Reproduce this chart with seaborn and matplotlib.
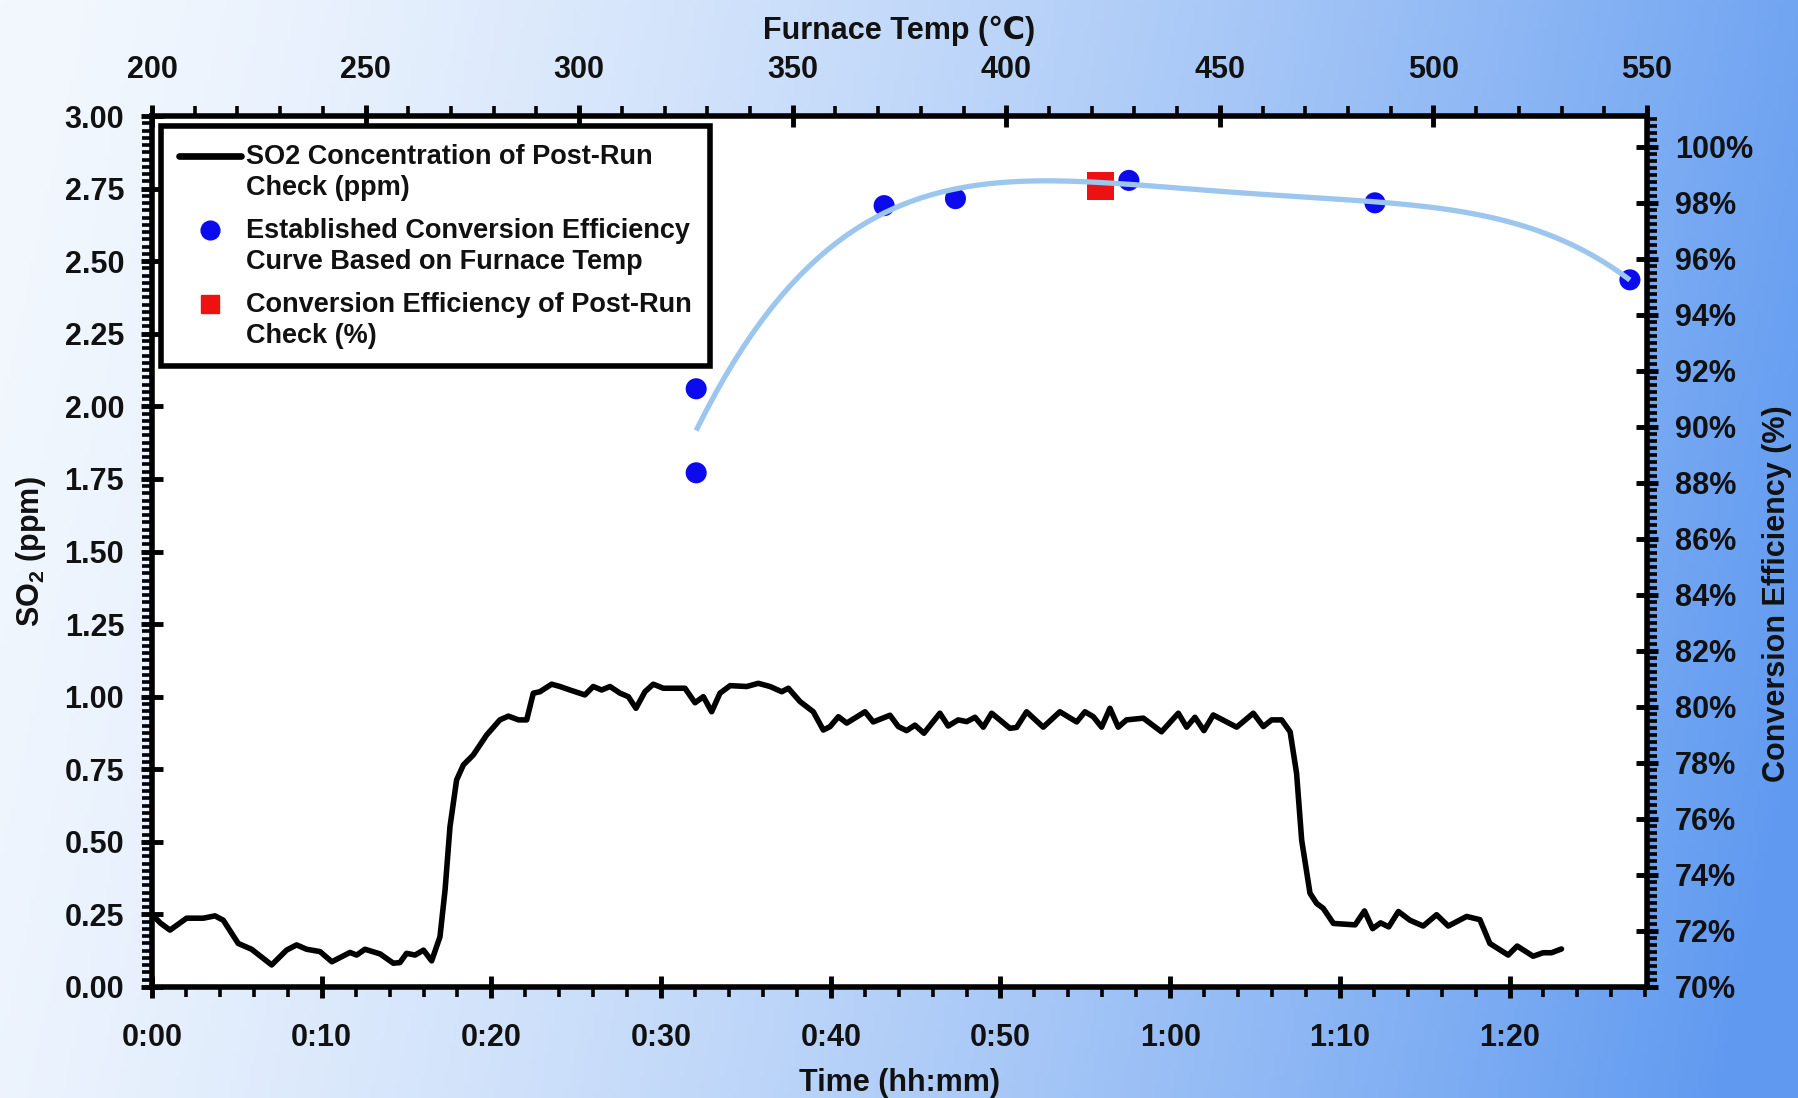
import numpy as np
import pandas as pd
import matplotlib
matplotlib.use("Agg")
import matplotlib.pyplot as plt
import seaborn as sns
from matplotlib.lines import Line2D
from matplotlib.ticker import MultipleLocator, FixedLocator, FuncFormatter

# ---------------- data ----------------
time_min = [0.0, 0.5, 1.06, 2.04, 3.03, 3.71, 4.2, 5.08, 5.87, 7.05, 7.93, 8.52, 9.11, 9.9,
            10.6, 11.67, 12.06, 12.55, 13.44, 14.22, 14.61, 15.0, 15.5, 16.0, 16.48, 16.97,
            17.27, 17.56, 17.95, 18.35, 18.93, 19.72, 20.5, 21.0, 21.6, 22.08, 22.47, 22.86,
            23.55, 24.04, 24.63, 25.51, 26.0, 26.5, 26.99, 27.58, 28.07, 28.52, 29.05, 29.54,
            30.13, 31.41, 32.0, 32.49, 32.98, 33.47, 34.07, 35.05, 35.73, 36.42, 37.11, 37.5,
            38.19, 38.97, 39.56, 39.96, 40.45, 40.94, 42.02, 42.5, 43.49, 43.98, 44.47, 44.96,
            45.49, 46.43, 46.92, 47.51, 48.01, 48.5, 48.99, 49.48, 50.56, 50.95, 51.54, 52.52,
            53.5, 54.49, 54.98, 55.47, 55.96, 56.45, 56.94, 57.43, 58.42, 59.49, 60.48, 60.97,
            61.46, 61.99, 62.54, 63.92, 64.9, 65.49, 65.98, 66.57, 67.07, 67.45, 67.75, 68.24,
            68.63, 69.02, 69.62, 70.9, 71.45, 71.93, 72.4, 72.88, 73.45, 74.13, 74.91, 75.7,
            76.39, 77.47, 78.25, 78.84, 79.92, 80.45, 81.39, 81.98, 82.47, 83.06]
so2_ppm = [0.25, 0.22, 0.196, 0.237, 0.237, 0.245, 0.23, 0.150, 0.130, 0.076, 0.127, 0.145, 0.130, 0.122,
           0.087, 0.119, 0.110, 0.130, 0.114, 0.082, 0.084, 0.116, 0.110, 0.127, 0.090, 0.173,
           0.334, 0.552, 0.713, 0.765, 0.799, 0.868, 0.920, 0.933, 0.920, 0.920, 1.012, 1.017,
           1.043, 1.035, 1.023, 1.006, 1.035, 1.023, 1.035, 1.012, 1.000, 0.960, 1.017, 1.043,
           1.029, 1.029, 0.979, 1.000, 0.948, 1.012, 1.038, 1.035, 1.046, 1.035, 1.017, 1.029,
           0.983, 0.948, 0.885, 0.897, 0.931, 0.909, 0.948, 0.913, 0.936, 0.897, 0.883, 0.902,
           0.874, 0.943, 0.899, 0.920, 0.914, 0.929, 0.895, 0.943, 0.891, 0.894, 0.948, 0.895,
           0.948, 0.913, 0.948, 0.931, 0.895, 0.960, 0.895, 0.920, 0.926, 0.879, 0.943, 0.895,
           0.929, 0.883, 0.937, 0.895, 0.943, 0.897, 0.920, 0.920, 0.879, 0.736, 0.506, 0.323,
           0.288, 0.271, 0.219, 0.214, 0.262, 0.201, 0.221, 0.207, 0.260, 0.230, 0.210, 0.249,
           0.210, 0.243, 0.232, 0.150, 0.110, 0.141, 0.106, 0.118, 0.118, 0.131]

curve_temp = [327.4, 327.4, 371.4, 388.1, 428.7, 486.3, 546.0]
curve_eff = [91.36, 88.36, 97.9, 98.15, 98.8, 98.0, 95.25]
postrun_temp = [422.0]
postrun_eff = [98.6]

time_ticks = [0, 10, 20, 30, 40, 50, 60, 70, 80]
time_tick_labels = ["0:00", "0:10", "0:20", "0:30", "0:40", "0:50", "1:00", "1:10", "1:20"]
temp_ticks = [200, 250, 300, 350, 400, 450, 500, 550]
so2_ticks = [0.0, 0.25, 0.5, 0.75, 1.0, 1.25, 1.5, 1.75, 2.0, 2.25, 2.5, 2.75, 3.0]
eff_ticks = [70, 72, 74, 76, 78, 80, 82, 84, 86, 88, 90, 92, 94, 96, 98, 100]

legend_labels = ["SO2 Concentration of Post-Run\nCheck (ppm)",
                 "Established Conversion Efficiency\nCurve Based on Furnace Temp",
                 "Conversion Efficiency of Post-Run\nCheck (%)"]

# ---------------- style ----------------
sns.set_style("ticks")
plt.rcParams['font.family'] = ['Liberation Sans', 'DejaVu Sans']
plt.rcParams['font.weight'] = 'bold'
plt.rcParams['axes.labelweight'] = 'bold'
plt.rcParams['mathtext.default'] = 'regular'
TXT = '#111111'

fig = plt.figure(figsize=(17.98, 10.98), dpi=100)

# gradient background
H, W = 220, 360
yy, xx = np.mgrid[0:H, 0:W]
t = np.clip((xx / W) * 0.92 + (yy / H) * 0.12, 0, 1)
t = t ** 1.45
c0 = np.array([243, 248, 254]) / 255
c1 = np.array([96, 154, 240]) / 255
img = c0[None, None, :] * (1 - t[..., None]) + c1[None, None, :] * t[..., None]
bg = fig.add_axes([0, 0, 1, 1], zorder=-10)
bg.imshow(img, aspect='auto', extent=[0, 1, 0, 1], origin='upper')
bg.axis('off')

L, R = 152 / 1798, 1647 / 1798
B, T = (1098 - 987) / 1098, (1098 - 116) / 1098
ax = fig.add_axes([L, B, R - L, T - B])
ax.set_facecolor('white')

sns.lineplot(x=time_min, y=so2_ppm, ax=ax, color='black', linewidth=4.0,
             estimator=None, sort=False, solid_joinstyle='round', solid_capstyle='round')

ax2 = ax.twinx()
ax3 = ax2.twiny()

sns.scatterplot(x=curve_temp, y=curve_eff, ax=ax3, color='#0b0bee', s=230,
                edgecolor='none', zorder=3)
sns.scatterplot(x=postrun_temp, y=postrun_eff, ax=ax3, color='#ee1111', marker='s',
                s=380, edgecolor='none', zorder=3)
sns.regplot(x=curve_temp, y=curve_eff, order=4, ci=None, scatter=False, ax=ax3,
            line_kws=dict(color='#9cc6ee', lw=3.8, zorder=5, solid_capstyle='butt'))

ax.set_xlim(0, 88.1)
ax.set_ylim(0, 3.0)
ax2.set_ylim(70, 101.1)
ax3.set_xlim(200, 550)

# ticks
ax.xaxis.set_major_locator(FixedLocator(time_ticks))
ax.set_xticklabels(time_tick_labels)
ax.xaxis.set_minor_locator(MultipleLocator(2))
ax.yaxis.set_major_locator(FixedLocator(so2_ticks))
ax.yaxis.set_major_formatter(FuncFormatter(lambda v, p: f"{v:.2f}"))
ax.yaxis.set_minor_locator(MultipleLocator(0.025))
ax2.yaxis.set_major_locator(FixedLocator(eff_ticks))
ax2.yaxis.set_major_formatter(FuncFormatter(lambda v, p: f"{v:.0f}%"))
ax2.yaxis.set_minor_locator(MultipleLocator(0.25))
ax3.xaxis.set_major_locator(FixedLocator(temp_ticks))
ax3.xaxis.set_minor_locator(MultipleLocator(10))

for a in (ax, ax2, ax3):
    a.tick_params(which='major', direction='inout', length=16, width=3.5,
                  labelsize=22, colors='black', labelcolor=TXT)
    a.tick_params(which='minor', direction='out', length=7, width=2.6, colors='black')
ax.tick_params(axis='x', which='major', pad=18)
ax.tick_params(axis='y', which='major', pad=12)
ax.tick_params(top=False, right=False, which='both')
ax2.tick_params(axis='y', which='major', pad=12)
ax3.tick_params(axis='x', which='major', pad=14)

for s in ax.spines.values():
    s.set_linewidth(4)
    s.set_color('black')
for a in (ax2, ax3):
    for s in a.spines.values():
        s.set_visible(False)

ax.set_xlabel("Time (hh:mm)", fontsize=22, color=TXT, labelpad=11)
ax.set_ylabel("SO$_2$ (ppm)", fontsize=22, color=TXT, labelpad=12)
ax2.set_ylabel("Conversion Efficiency (%)", fontsize=22, color=TXT)
ax2.yaxis.set_label_coords(1.077, 0.452)
ax3.set_xlabel("Furnace Temp (℃)", fontsize=22, color=TXT, labelpad=12)

# legend
handles = [Line2D([], [], color='black', lw=4.8),
           Line2D([], [], ls='none', marker='o', color='#0b0bee', markersize=13.5),
           Line2D([], [], ls='none', marker='s', color='#ee1111', markersize=12.5)]
leg = ax3.legend(handles, legend_labels, loc='upper left', bbox_to_anchor=(0.006, 0.988),
                 borderaxespad=0, frameon=True, fancybox=False, framealpha=1,
                 edgecolor='black', prop=dict(weight='bold', size=19.5),
                 handlelength=2.3, handletextpad=0.2, labelspacing=0.62, borderpad=0.65)
leg.get_frame().set_linewidth(4)
leg.set_zorder(20)
for txt in leg.get_texts():
    txt.set_color(TXT)
    txt.set_linespacing(1.25)
for h in leg.legend_handles:
    h.set_ydata(np.asarray(h.get_ydata()) + 12)

fig.savefig("out.png", dpi=100)
